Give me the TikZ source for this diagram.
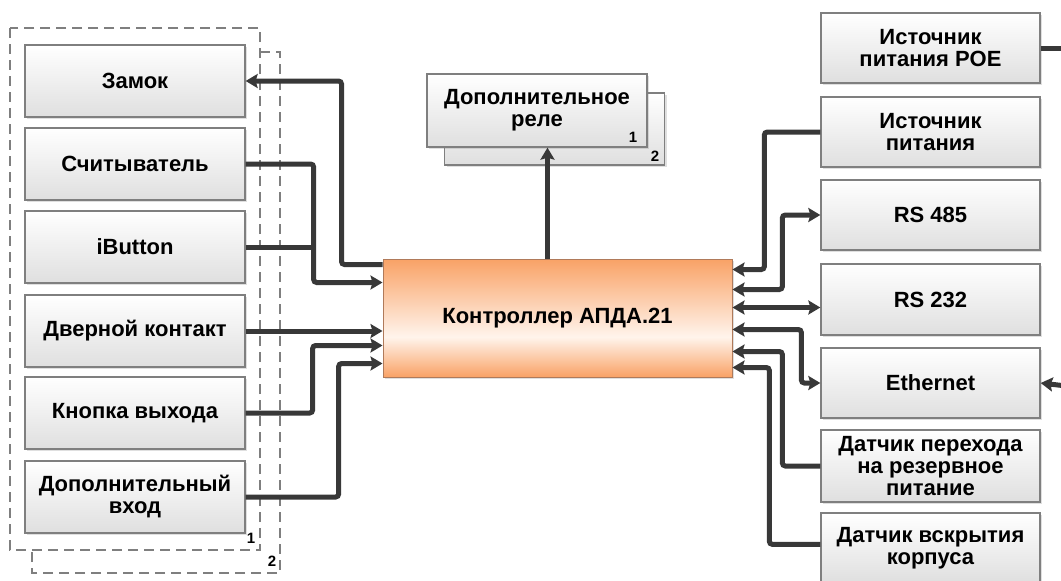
\documentclass[tikz,border=0pt]{standalone}
\usepackage{fontspec}
\setmainfont{Liberation Sans}
\usetikzlibrary{arrows.meta,shadows}

\definecolor{wirec}{HTML}{383838}
\definecolor{boxline}{HTML}{7F7F7F}
\definecolor{ctrlor}{HTML}{F9A266}
\definecolor{ctrlmid}{HTML}{FFF4EC}
\definecolor{ctrlline}{HTML}{B07A5A}
\pgfdeclareverticalshading{ctrlshade}{100bp}{color(0bp)=(ctrlor); color(25bp)=(ctrlor); color(42bp)=(ctrlmid); color(75bp)=(ctrlor); color(100bp)=(ctrlor)}

\begin{document}
\begin{tikzpicture}[x=1pt, y=-1pt,
    every node/.style={font=\bfseries\fontsize{22}{22}\selectfont, align=center, inner sep=0pt},
    unit/.style={draw=boxline, line width=1.3pt, top color=white, bottom color=gray!25,
        minimum width=220pt, minimum height=72pt,
        drop shadow={shadow xshift=2pt, shadow yshift=-2pt, opacity=0.25}},
    wire/.style={draw=wirec, line width=5pt, rounded corners=3pt},
    grp/.style={draw=boxline, line width=2.5pt, dash pattern=on 10pt off 6pt},
    num/.style={font=\bfseries\fontsize{15}{15}\selectfont},
    >={Stealth[length=12pt, width=14pt, inset=2pt]}]
    \useasboundingbox (0,0) rectangle (1061,581);
    \clip (0,0) rectangle (1061,581);

    % группа входов
    \draw[grp] (260,52) -- (280,52) -- (280,573) -- (32,573) -- (32,550);
    \draw[grp, fill=white] (10,28) rectangle (260,550);
    \node[num] (g1) at (251,538) {1};
    \node[num] (g2) at (272,561) {2};

    \node[unit] (lock) at (135,81) {Замок};
    \node[unit] (reader) at (135,164) {Считыватель};
    \node[unit] (ibutton) at (135,247) {iButton};
    \node[unit] (door) at (135,331) {Дверной контакт};
    \node[unit] (exitbtn) at (135,413) {Кнопка выхода};
    \node[unit] (auxin) at (135,497) {Дополнительный\\вход};

    % контроллер и реле
    \node[draw=ctrlline, line width=1pt, shading=ctrlshade, minimum width=349pt, minimum height=118pt,
        drop shadow={shadow xshift=2pt, shadow yshift=-2pt, opacity=0.25}] (ctrl) at (557.5,318) {Контроллер АПДА.21};
    \node[unit] (relayb) at (554.5,129) {};
    \node[unit, minimum height=73pt] (relay) at (537,110.5) {Дополнительное\\реле};
    \node[num] (r1) at (633,137) {1};
    \node[num] (r2) at (655,156) {2};

    % справа
    \node[unit, minimum width=219pt, minimum height=70pt] (poe) at (930.5,48) {Источник\\питания POE};
    \node[unit, minimum width=219pt, minimum height=70pt] (psu) at (930.5,132) {Источник\\питания};
    \node[unit, minimum width=219pt, minimum height=70pt] (rs485) at (930.5,215) {RS 485};
    \node[unit, minimum width=219pt, minimum height=71pt] (rs232) at (930.5,299.5) {RS 232};
    \node[unit, minimum width=219pt, minimum height=70pt] (eth) at (930.5,383) {Ethernet};
    \node[unit, minimum width=219pt, minimum height=72pt] (ups) at (930.5,466) {Датчик перехода\\на резервное\\питание};
    \node[unit, minimum width=219pt, minimum height=70pt] (tamper) at (930.5,548) {Датчик вскрытия\\корпуса};

    % связи слева
    \draw[wire,->] ([yshift=-6pt]ctrl.north west) -- ++(-41,0) |- (lock.east);
    \draw[wire,->] (reader.east) -- ++(68,0) |- ([yshift=-24pt]ctrl.north west);
    \draw[wire] (ibutton.east) -- ++(68,0);
    \draw[wire,->] (door.east) -- (door.east -| ctrl.west);
    \draw[wire,->] (exitbtn.east) -- ++(67,0) |- ([yshift=-87pt]ctrl.north west);
    \draw[wire,->] (auxin.east) -- ++(93,0) |- ([yshift=-105pt]ctrl.north west);

    \draw[wire,->] ([xshift=-10pt]ctrl.north) -- ([xshift=-10pt]ctrl.north |- relay.south);

    % связи справа
    \draw[wire,->] (psu.west) -- ++(-56,0) |- ([yshift=-11pt]ctrl.north east);
    \draw[wire,<->] ([yshift=-31pt]ctrl.north east) -| ([xshift=-38pt]rs485.west) -- (rs485.west);
    \draw[wire,<->] ([yshift=-49pt]ctrl.north east) -- ([yshift=-49pt]ctrl.north east -| rs232.west);
    \draw[wire,<->] ([yshift=-71pt]ctrl.north east) -| ([xshift=-19pt]eth.west) -- (eth.west);
    \draw[wire,->] (ups.west) -- ++(-38,0) |- ([yshift=-93pt]ctrl.north east);
    \draw[wire,->] ([yshift=-32pt]tamper.north west) -- ++(-51,0) |- ([yshift=-109pt]ctrl.north east);

    \coordinate (poeout) at (1075,48);
    \coordinate (ethin) at (1075,387);
    \draw[wire] (poe.east) -- (poeout);
    \draw[wire,->] (ethin) -- (eth.east);
\end{tikzpicture}
\end{document}
